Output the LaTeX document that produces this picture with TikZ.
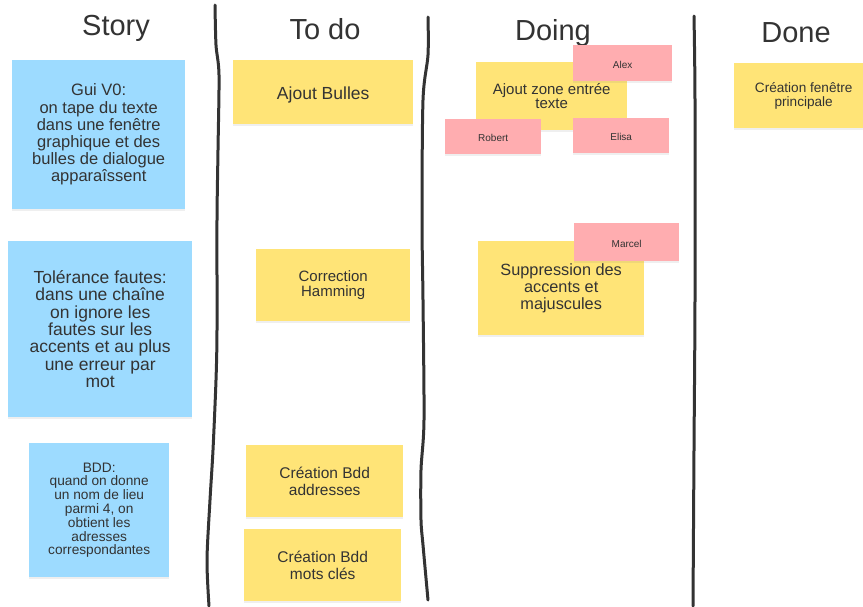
\documentclass[tikz,border=0pt]{standalone}
\usepackage{fontspec}
\setmainfont{Liberation Sans}
\usepackage{xcolor}
\usepackage{tikz}
\usetikzlibrary{shadows}
\definecolor{ink}{HTML}{333333}
\definecolor{sky}{HTML}{9DDBFF}
\definecolor{sticky}{HTML}{FFE477}
\definecolor{rosy}{HTML}{FFADB0}

\begin{document}
\begin{tikzpicture}[
  x=1pt, y=-1pt,
  every node/.style={align=center, text=ink},
  note/.style={rectangle, anchor=north west, inner sep=0pt,
               execute at begin node={\rule{0pt}{1.05em}},
               drop shadow={shadow xshift=0pt, shadow yshift=-1.5pt, opacity=0.12}},
  storynote/.style={note, fill=sky},
  tasknote/.style={note, fill=sticky},
  tag/.style={note, fill=rosy, font=\fontsize{10}{12}\selectfont},
  title/.style={anchor=base, font=\fontsize{29}{32}\selectfont},
  lane/.style={draw=ink, line width=3pt, line cap=round, line join=round}
]
  \clip (0,0) rectangle (863,606);
  \fill[white] (0,0) rectangle (863,606);

  % column titles
  \node[title] (story) at (116,35) {Story};
  \node[title] (todo)  at (325,39) {To do};
  \node[title] (doing) at (553,40) {Doing};
  \node[title] (done)  at (796,42) {Done};

  % hand drawn separators
  \draw[lane] plot[smooth, tension=0.5] coordinates
    {(215,5) (216,45) (219,75) (218,150) (217,220) (217,330) (216,380)
     (213,450) (210,500) (207,560) (209,606)};
  \draw[lane] plot[smooth, tension=0.5] coordinates
    {(428,17) (428,55) (423,100) (422,220) (423,300) (424,420)
     (421,470) (421,520) (423,545) (428,600)};
  \draw[lane] plot[smooth, tension=0.5] coordinates
    {(694,16) (695,100) (695,300) (694,450) (693,606)};

  % stories
  \node[storynote, minimum width=173, minimum height=149,
        font=\fontsize{16.5}{17.2}\selectfont] (gui) at (12,60)
    {Gui V0:\\on tape du texte\\dans une fenêtre\\graphique et des\\bulles de dialogue\\apparaîssent};
  \node[storynote, minimum width=184, minimum height=176,
        font=\fontsize{17.5}{17.3}\selectfont] (tol) at (8,241)
    {Tolérance fautes:\\dans une chaîne\\on ignore les\\fautes sur les\\accents et au plus\\une erreur par\\mot};
  \node[storynote, minimum width=140, minimum height=134,
        font=\fontsize{13.7}{13.8}\selectfont] (bdd) at (29,443)
    {BDD:\\quand on donne\\un nom de lieu\\parmi 4, on\\obtient les\\adresses\\correspondantes};

  % to do
  \node[tasknote, minimum width=180, minimum height=64,
        font=\fontsize{17.5}{18}\selectfont] (bulles) at (233,60) {Ajout Bulles};
  \node[tasknote, minimum width=154, minimum height=72,
        font=\fontsize{15}{15.7}\selectfont] (hamming) at (256,249) {Correction\\Hamming};
  \node[tasknote, minimum width=157, minimum height=72,
        font=\fontsize{15.5}{16.5}\selectfont] (bddadr) at (246,445) {Création Bdd\\addresses};
  \node[tasknote, minimum width=157, minimum height=72,
        font=\fontsize{15.5}{16.5}\selectfont] (bddmots) at (244,529) {Création Bdd\\mots clés};

  % doing
  \node[tasknote, minimum width=151, minimum height=68,
        font=\fontsize{15}{14.5}\selectfont] (zone) at (476,62) {Ajout zone entrée\\texte};
  \node[tasknote, minimum width=166, minimum height=94,
        font=\fontsize{16.3}{16.7}\selectfont] (supp) at (478,241)
    {Suppression des\\accents et\\majuscules};

  % who works on what
  \node[tag, minimum width=99, minimum height=36] (alex) at (573,45) {Alex};
  \node[tag, minimum width=96, minimum height=35] (robert) at (445,119) {Robert};
  \node[tag, minimum width=96, minimum height=35] (elisa) at (573,118) {Elisa};
  \node[tag, minimum width=105, minimum height=38] (marcel) at (574,223) {Marcel};

  % done
  \node[tasknote, minimum width=139, minimum height=65,
        font=\fontsize{13.6}{14}\selectfont] (fenetre) at (734,63)
    {Création fenêtre\\principale};
\end{tikzpicture}
\end{document}
